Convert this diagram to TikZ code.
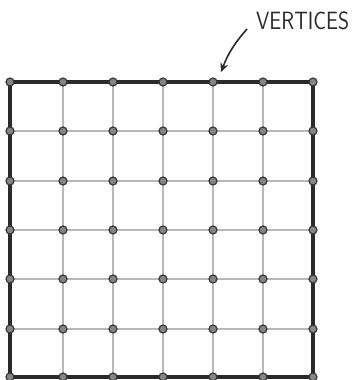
\documentclass[tikz,border=0pt]{standalone}
\usetikzlibrary{arrows.meta}
\definecolor{gridgray}{HTML}{B8B8B8}
\definecolor{borderdark}{HTML}{2A2A2A}
\definecolor{dotfill}{HTML}{858585}
\definecolor{dotedge}{HTML}{383838}
\tikzset{
  gridline/.style={gridgray, line width=1.1pt},
  borderline/.style={borderdark, line width=3.6pt, line cap=round, line join=round},
  vertexdot/.style={circle, inner sep=0pt, minimum size=8pt, fill=dotfill, draw=dotedge, line width=1.2pt},
  pointer/.style={borderdark, line width=1.6pt, -{Stealth[length=9pt,width=8pt]}},
  labeltext/.style={font=\sffamily\fontsize{25}{27}\selectfont, text=borderdark, inner sep=0pt, xscale=0.85}
}
\begin{document}
\begin{tikzpicture}[x=1pt,y=-1pt]
\useasboundingbox (0,0) rectangle (353,380);
% vertex positions
\foreach \i/\x in {0/10,1/63,2/113,3/163,4/213,5/263,6/313}{
  \foreach \j/\y in {0/82,1/131,2/181,3/230,4/279,5/329,6/377}{
    \coordinate (p-\i-\j) at (\x,\y);
  }
}
% interior grid lines
\foreach \k in {1,...,5}{
  \draw[gridline] (p-\k-0) -- (p-\k-6);
  \draw[gridline] (p-0-\k) -- (p-6-\k);
}
% border
\draw[borderline] (p-0-0) -- (p-6-0) -- (p-6-6) -- (p-0-6) -- cycle;
% vertices
\foreach \i in {0,...,6}{
  \foreach \j in {0,...,6}{
    \node[vertexdot] (v-\i-\j) at (p-\i-\j) {};
  }
}
% label and pointer
\node[labeltext, anchor=west] (lbl) at (256,21) {VERTICES};
\coordinate (a0) at (247,29);
\coordinate (a1) at (221,72);
\draw[pointer] (a0) to[bend right=10] (a1);
\end{tikzpicture}
\end{document}
